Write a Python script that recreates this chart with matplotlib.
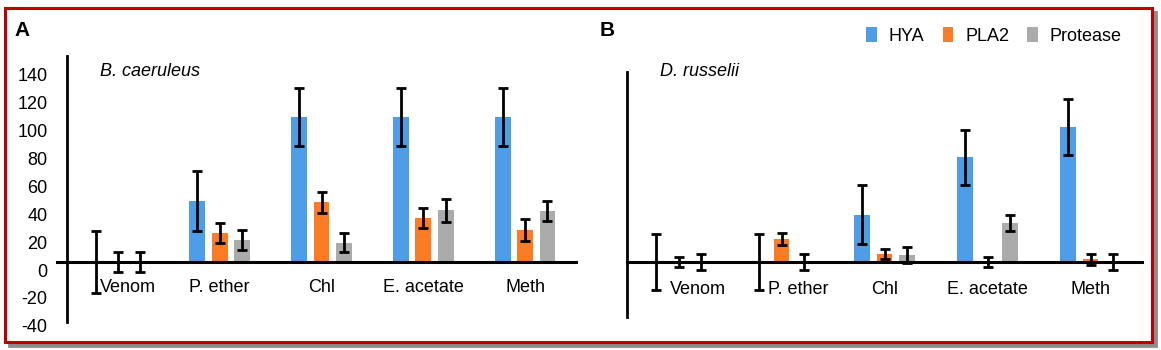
import matplotlib.pyplot as plt
import matplotlib.transforms as mtransforms
from matplotlib.patches import Rectangle
import numpy as np

plt.rcParams['font.family'] = ['Liberation Sans', 'DejaVu Sans']

# dados
categories = ["Venom", "P. ether", "Chl", "E. acetate", "Meth"]
series = ["HYA", "PLA2", "Protease"]

a_hya = [0, 44, 104, 104, 104]
a_hya_err = [22, 21.5, 21, 21, 21]
a_pla2 = [0, 21, 43, 31.5, 23]
a_pla2_err = [7, 7, 7.5, 7, 8]
a_prot = [0, 16, 14, 37, 36.5]
a_prot_err = [7, 7, 7, 8, 7]

b_hya = [0, 0, 34, 75, 97]
b_hya_err = [20, 20, 21, 20, 20]
b_pla2 = [0, 16.5, 5.5, 0, 2]
b_pla2_err = [3.5, 4, 3.5, 3.5, 4]
b_prot = [0, 0, 5, 28, 0]
b_prot_err = [5.5, 5.5, 5.5, 6, 5.5]

yticks_a = [-40, -20, 0, 20, 40, 60, 80, 100, 120, 140]

colors = ["#4F9DE6", "#FB7C24", "#ABABAB"]
W, H = 1161, 350
FS = 13


def px(x0, y0, x1, y1):
    # caixa em pixels (origem no topo) -> fracao da figura
    return [x0 / W, 1 - y1 / H, (x1 - x0) / W, (y1 - y0) / H]


def draw_panel(ax, vals, errs, ylim, xline_start, label_shift, label_dy, species, species_y):
    x = np.arange(len(categories))
    offs = [-0.22, 0, 0.22]
    for k in range(3):
        ax.bar(x + offs[k], vals[k], width=0.155, color=colors[k], label=series[k], zorder=2)
        ax.errorbar(x + offs[k], vals[k], yerr=errs[k], fmt='none', ecolor='black',
                    elinewidth=2, capsize=3.5, capthick=2, zorder=4)
    ax.plot([xline_start, 4.5], [0, 0], color='black', lw=2.2, clip_on=False, zorder=3)
    ax.set_xlim(-0.5, 4.5)
    ax.set_ylim(*ylim)
    for s in ['top', 'right', 'bottom']:
        ax.spines[s].set_visible(False)
    ax.spines['left'].set_linewidth(2)
    ax.set_xticks([])
    for i, c in enumerate(categories):
        ax.annotate(c, (i, 0), xytext=(label_shift.get(i, 0), label_dy), textcoords='offset pixels',
                    ha='center', va='center', fontsize=FS)
    ax.text(0.065, species_y, species, transform=ax.transAxes,
            style='italic', fontsize=FS, va='center')
    ax.patch.set_alpha(0)


fig = plt.figure(figsize=(W / 100, H / 100), dpi=100)

# moldura vermelha com sombra
fig.patches.append(Rectangle((9 / W, 1 - 346 / H), 1147 / W, 334 / H, transform=fig.transFigure,
                             facecolor='#8C8C8C', edgecolor='#8C8C8C', lw=2, zorder=-3))
fig.patches.append(Rectangle((5 / W, 1 - 342 / H), 1147 / W, 334 / H, transform=fig.transFigure,
                             facecolor='white', edgecolor='#C00000', lw=2.2, zorder=-2))

axA = fig.add_axes(px(67, 56, 576, 322))
draw_panel(axA, [a_hya, a_pla2, a_prot], [a_hya_err, a_pla2_err, a_prot_err],
           (-43.0, 147.8), -0.598, {0: 10}, -25, "B. caeruleus", 0.94)
axA.set_yticks(yticks_a)
axA.set_yticklabels([str(v) for v in yticks_a], fontsize=FS)
axA.tick_params(axis='y', length=0, pad=14)
shift = mtransforms.ScaledTranslation(0, -8 / 100, fig.dpi_scale_trans)
for lab in axA.get_yticklabels():
    lab.set_transform(lab.get_transform() + shift)

axB = fig.add_axes(px(627, 72, 1142, 317))
draw_panel(axB, [b_hya, b_pla2, b_prot], [b_hya_err, b_pla2_err, b_prot_err],
           (-39.5, 136.3), -0.5, {0: 19, 1: 17}, -28, "D. russelii", 1.0)
axB.set_yticks([])

fig.text(14 / W, 1 - 31 / H, "A", fontsize=15, fontweight='bold', va='center')
fig.text(600 / W, 1 - 31 / H, "B", fontsize=15, fontweight='bold', va='center')

handles, labels = axB.get_legend_handles_labels()
fig.legend(handles, labels, loc='center', bbox_to_anchor=(994 / W, 1 - 36 / H), ncol=3,
           frameon=False, fontsize=FS, handlelength=0.6, handleheight=0.85,
           handletextpad=0.65, columnspacing=1.0, borderpad=0)

fig.savefig("out.png", dpi=100)
